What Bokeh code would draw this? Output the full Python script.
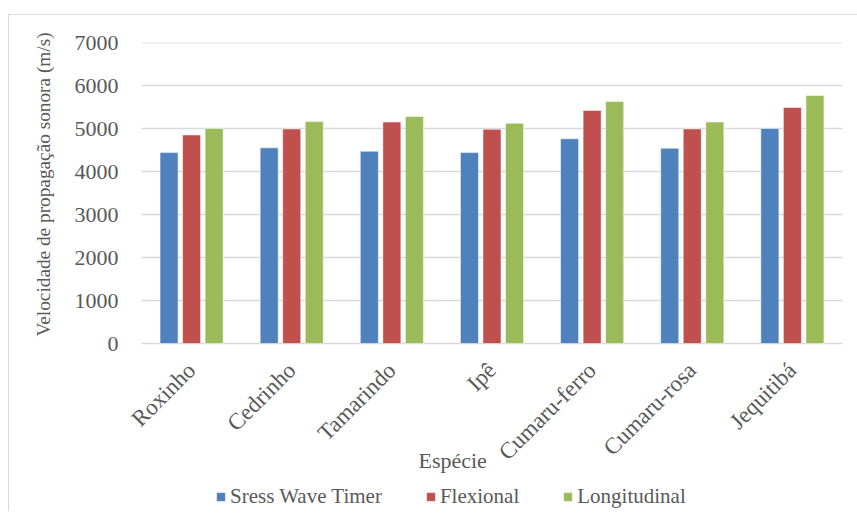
import math
from bokeh.plotting import figure
from bokeh.models import (FactorRange, Range1d, Legend, LegendItem, Title, Label,
                          FixedTicker, ColumnDataSource)
from bokeh.transform import dodge
from bokeh.embed import file_html
from bokeh.resources import INLINE

species = ["Roxinho", "Cedrinho", "Tamarindo", "Ipê", "Cumaru-ferro", "Cumaru-rosa", "Jequitibá"]
stress_wave = [4440, 4550, 4470, 4440, 4760, 4540, 5000]
flexional = [4850, 4990, 5150, 4980, 5420, 4990, 5490]
longitudinal = [5000, 5160, 5280, 5120, 5630, 5150, 5770]
series_names = ["Sress Wave Timer", "Flexional", "Longitudinal"]
series_colors = ["#4F81BD", "#C0504D", "#9BBB59"]
y_ticks = [0, 1000, 2000, 3000, 4000, 5000, 6000, 7000]

FONT = "Liberation Serif"
TXT = "#595959"
GRID = "#d9d9d9"

# frame runs from the 7000 line down to the legend row; 0 sits 301 px below 7000
PX_PER_UNIT = 301 / 7000
FRAME_H = 469
Y_START = -(FRAME_H - 301) / PX_PER_UNIT
CAT_PX = 100.14
PAD = 0.16  # extra room left/right of the categories so the first label is not cut


def y_at(px_below_zero):
    return -px_below_zero / PX_PER_UNIT


src = ColumnDataSource(dict(species=species, s0=stress_wave, s1=flexional, s2=longitudinal))
grid_src = ColumnDataSource(dict(y=y_ticks, x0=[0] * len(y_ticks), x1=[len(species)] * len(y_ticks)))

p = figure(x_range=FactorRange(*species, range_padding=PAD, range_padding_units="absolute"),
           y_range=Range1d(Y_START, 7000),
           frame_width=round((len(species) + 2 * PAD) * CAT_PX), frame_height=FRAME_H,
           output_backend="svg", toolbar_location=None,
           min_border_left=116, min_border_right=0, min_border_top=27, min_border_bottom=0)
p.margin = (14, 0, 0, 8)
p.styles = {"border-top": "1px solid #d9d9d9", "border-left": "1px solid #d9d9d9"}

# horizontal gridlines spanning exactly the category area
p.segment(x0="x0", x1="x1", y0="y", y1="y", source=grid_src, line_color=GRID, line_width=1.5)

renderers = []
offsets = [-0.225, 0.0, 0.225]
for i, (off, col) in enumerate(zip(offsets, series_colors)):
    r = p.vbar(x=dodge("species", off, range=p.x_range), top="s%d" % i, width=0.18,
               source=src, fill_color=col, line_color="white", line_alpha=0.5, line_width=1)
    renderers.append(r)

p.outline_line_color = None
p.xgrid.grid_line_color = None
p.ygrid.grid_line_color = None

p.yaxis.ticker = FixedTicker(ticks=y_ticks)
p.yaxis.axis_line_color = None
p.yaxis.major_tick_line_color = None
p.yaxis.minor_tick_line_color = None
p.yaxis.major_tick_out = 0
p.yaxis.minor_tick_out = 0
p.yaxis.major_label_standoff = 7
p.yaxis.major_label_text_font = FONT
p.yaxis.major_label_text_font_size = "22px"
p.yaxis.major_label_text_color = TXT

p.add_layout(Title(text="Velocidade de propagação sonora (m/s)", align="left",
                   offset=FRAME_H - 301 + 7, vertical_align="bottom", standoff=36,
                   text_font=FONT, text_font_size="19.3px", text_font_style="normal",
                   text_color=TXT), "left")

# category axis: labels hang just below the 0 line
LABEL_STANDOFF = -105
p.xaxis.fixed_location = y_at(23 - LABEL_STANDOFF)
p.xaxis.axis_line_color = None
p.xaxis.major_tick_line_color = None
p.xaxis.minor_tick_line_color = None
p.xaxis.major_tick_out = 0
p.xaxis.minor_tick_out = 0
p.xaxis.major_label_orientation = math.pi / 4
p.xaxis.major_label_standoff = LABEL_STANDOFF
p.xaxis.major_label_text_font = FONT
p.xaxis.major_label_text_font_size = "23px"
p.xaxis.major_label_text_color = TXT

p.add_layout(Label(x=3.107, y=y_at(117), text="Espécie", text_align="center",
                   text_baseline="middle", text_font=FONT, text_font_size="22px",
                   text_color=TXT))

legend = Legend(items=[LegendItem(label=n, renderers=[r]) for n, r in zip(series_names, renderers)],
                orientation="horizontal", location=(90, 2),
                label_text_font=FONT, label_text_font_size="21px", label_text_color=TXT,
                glyph_width=11, glyph_height=11, spacing=43, label_standoff=4,
                padding=0, margin=0, border_line_color=None, background_fill_alpha=0)
p.add_layout(legend)

open("out.html", "w").write(file_html(p, INLINE))
